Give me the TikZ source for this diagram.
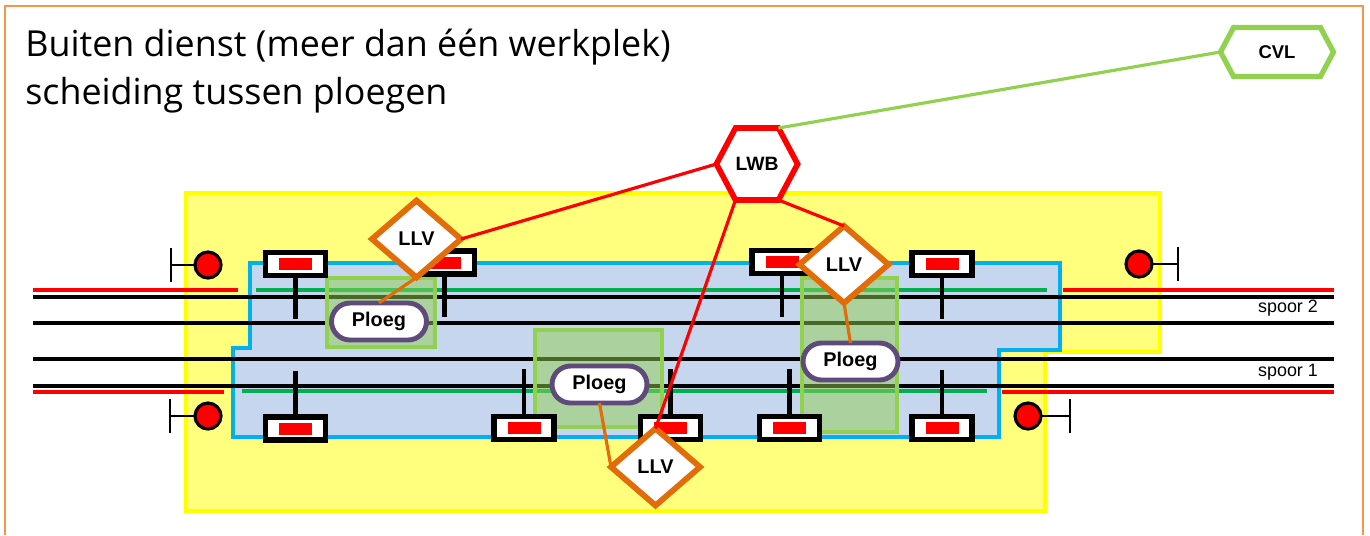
\documentclass[tikz,border=0pt]{standalone}
\usepackage{fontspec}
\setmainfont{Liberation Sans}
\newfontfamily\titelfont{Open Sans}
\usetikzlibrary{shapes.geometric,shapes.symbols}
\definecolor{kader}{HTML}{F79646}
\definecolor{geel}{HTML}{FFFF00}
\definecolor{lichtgeel}{HTML}{FFFF7D}
\definecolor{blauw}{HTML}{00B0F0}
\definecolor{lichtblauw}{HTML}{C5D6EE}
\definecolor{groen}{HTML}{00B050}
\definecolor{lichtgroen}{HTML}{92D050}
\definecolor{oranje}{HTML}{E36C0A}
\definecolor{paars}{HTML}{604A7B}
\tikzset{
  spoor/.style={line width=2.7pt,black},
  rail/.style={line width=2.6pt,red},
  werk/.style={line width=2.6pt,groen},
  zone/.style={draw=lichtgroen,line width=2.8pt,fill=lichtgroen,fill opacity=0.5},
  blok/.style={draw=black,fill=white,line width=3.1pt,minimum width=1.2cm,minimum height=0.46cm,inner sep=0,outer sep=0},
  rood/.style={fill=red,minimum width=0.66cm,minimum height=0.24cm,inner sep=0,outer sep=0},
  paal/.style={line width=2.8pt,black},
  sein/.style={circle,draw=black,fill=red,line width=1.8pt,minimum size=0.52cm,inner sep=0,outer sep=0},
  seinlijn/.style={line width=1.5pt,black},
  llv/.style={diamond,draw=oranje,fill=white,line width=3.3pt,minimum width=1.78cm,minimum height=1.54cm,inner sep=0,outer sep=0,font=\bfseries\fontsize{11.3}{12}\selectfont},
  ploeg/.style={draw=paars,fill=white,line width=2.8pt,rounded corners=0.37cm,minimum width=1.9cm,minimum height=0.74cm,inner sep=0,outer sep=0,font=\bfseries\fontsize{11.3}{12}\selectfont},
  lwb/.style={signal,signal to=east and west,signal pointer angle=124,draw=red,fill=white,line width=3.2pt,minimum width=1.5cm,minimum height=1.44cm,inner sep=0,outer sep=0,font=\bfseries\fontsize{11}{12}\selectfont},
  cvl/.style={signal,signal to=east and west,signal pointer angle=124,draw=lichtgroen,fill=white,line width=3pt,minimum width=2.26cm,minimum height=0.98cm,inner sep=0,outer sep=0,font=\bfseries\fontsize{10.5}{12}\selectfont},
  titel/.style={anchor=base west,inner sep=0,font=\titelfont\fontsize{20.4}{24}\selectfont},
  naam/.style={inner sep=0,font=\fontsize{10.2}{12}\selectfont},
}
\begin{document}
\begin{tikzpicture}[x=0.02cm,y=-0.02cm]
\useasboundingbox(0,0)rectangle(1370,535);
\draw[kader,line width=1.6pt](5,535)--(5,6)--(1363,6)--(1363,535);
\node[titel](regel1)at(25,56){Buiten dienst (meer dan één werkplek)};
\node[titel](regel2)at(25,104){scheiding tussen ploegen};
%
\draw[geel,fill=lichtgeel,line width=2.6pt](186,193)--(1160,193)--(1160,352)--(1045,352)--(1045,511)--(186,511)--cycle;
\draw[blauw,fill=lichtblauw,line width=2.6pt](250,263)--(1060,263)--(1060,350)--(999,350)--(999,437)--(233,437)--(233,348)--(250,348)--cycle;
%
\foreach \y in {297,323,359,386}{\draw[spoor](33,\y)--(1334,\y);}
\draw[rail](33,290)--(238,290);
\draw[rail](1063,290)--(1334,290);
\draw[rail](33,392)--(224,392);
\draw[rail](1002,392)--(1334,392);
\draw[werk](256,290)--(1047,290);
\draw[werk](242,391)--(987,391);
%
\draw[zone](327,278)rectangle(435,347);
\draw[zone](535,330)rectangle(662,427);
\draw[zone](802,278)rectangle(897,432);
%
\foreach \n/\x/\y/\e in {a/295.5/264/319,b/444.5/262.5/317,c/782/262/317,d/942/264/319,e/295.5/428.5/371,f/524/428/369,g/670.5/428/369,h/789.5/428/369,i/942/428/370}{
  \node[blok](blok\n)at(\x,\y){};
  \node[rood](rood\n)at(\x,\y){};
  \coordinate(eind\n)at(\x,\e);
  \draw[paal](blok\n)--(eind\n);
}
%
\foreach \n/\x/\y/\b in {a/208/265/171,b/208/416/170,c/1139/264/1178,d/1028/416/1070}{
  \node[sein](sein\n)at(\x,\y){};
  \coordinate(stop\n)at(\b,\y);
  \draw[seinlijn](sein\n)--(stop\n);
  \draw[seinlijn](stop\n)++(0,-17)--++(0,34);
}
%
\node[naam](spoor2)at(1288,308){spoor 2};
\node[naam](spoor1)at(1288,372){spoor 1};
%
\node[ploeg](ploega)at(379,321.5){Ploeg};
\node[ploeg](ploegb)at(599.5,384.5){Ploeg};
\node[ploeg](ploegc)at(850.5,361.5){Ploeg};
\node[llv](llva)at(416.5,239){LLV};
\node[llv](llvb)at(844,264.5){LLV};
\node[llv](llvc)at(655.5,467){LLV};
\node[lwb](lwb)at(757,164){LWB};
\node[cvl](cvl)at(1277,52){CVL};
%
\draw[lichtgroen,line width=1.8pt](lwb.north east)--(cvl.west);
\draw[red,line width=1.8pt](lwb.west)--(llva.east);
\draw[red,line width=1.8pt](lwb.south east)--(llvb.north);
\draw[red,line width=1.8pt](lwb.south west)--(llvc.north);
\draw[oranje,line width=1.8pt](llva.south)--(ploega.north);
\draw[oranje,line width=1.8pt](llvb.south)--(ploegc.north);
\draw[oranje,line width=1.8pt](ploegb.south)--(llvc.west);
\end{tikzpicture}
\end{document}
